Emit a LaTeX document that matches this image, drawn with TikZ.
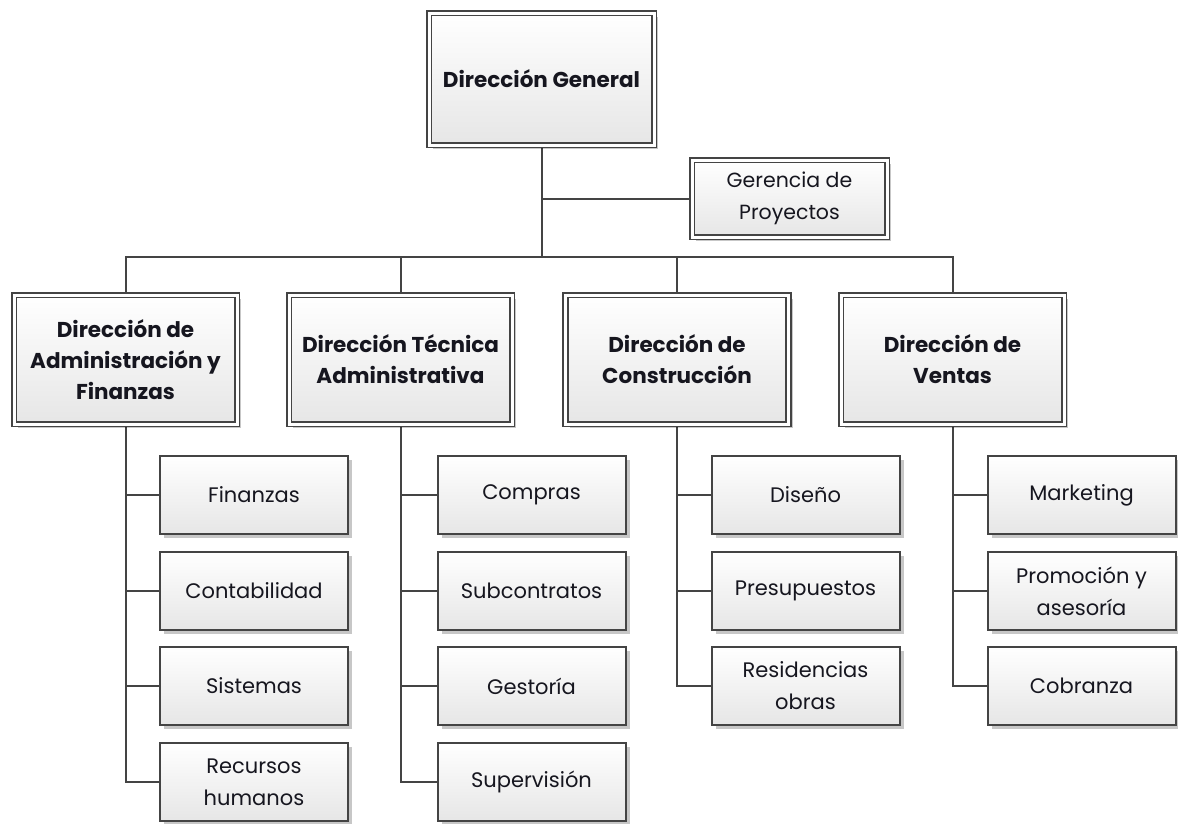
\documentclass[tikz,border=0pt]{standalone}
\usepackage{fontspec}
\setmainfont{Poppins}
\usetikzlibrary{shadows,backgrounds}
\definecolor{edge}{HTML}{444444}
\definecolor{ink}{HTML}{16161F}
\definecolor{shade}{HTML}{E6E6E6}
\tikzset{
  base/.style={rectangle, top color=white, bottom color=shade, text=ink,
    align=center, inner sep=1pt,
    drop shadow={shadow xshift=4pt, shadow yshift=-4pt, opacity=0.22, fill=black}},
  headbox/.style={base, draw=edge, double=white, double distance=3pt,
    line width=1.6pt, font=\bfseries\fontsize{21.5}{31}\selectfont,
    minimum width=223pt, minimum height=129pt},
  unitbox/.style={base, draw=edge, line width=2pt,
    font=\fontsize{21}{32}\selectfont,
    minimum width=188pt, minimum height=78pt},
  link/.style={draw=edge, line width=2pt},
}
\begin{document}
\begin{tikzpicture}[x=1pt, y=-1pt]
\useasboundingbox (0,0) rectangle (1178,823);

% top level
\node[headbox, minimum width=225pt, minimum height=132pt] (dg) at (541.5,79) {Dirección General};
\node[headbox, font=\fontsize{20.5}{32}\selectfont, minimum width=195pt, minimum height=77pt] (ger) at (789.5,198.5) {Gerencia de\\Proyectos};

% directions
\node[headbox] (adm) at (125.5,359.5) {Dirección de\\Administración y\\Finanzas};
\node[headbox] (tec) at (400.5,359.5) {Dirección Técnica\\Administrativa};
\node[headbox] (con) at (677,359.5) {Dirección de\\Construcción};
\node[headbox] (ven) at (952.5,359.5) {Dirección de\\Ventas};

% units under each direction
\node[unitbox] (a1) at (254,495) {Finanzas};
\node[unitbox] (a2) at (254,591) {Contabilidad};
\node[unitbox] (a3) at (254,686) {Sistemas};
\node[unitbox] (a4) at (254,782) {Recursos\\humanos};

\node[unitbox] (t1) at (531.5,495) {Compras};
\node[unitbox] (t2) at (531.5,591) {Subcontratos};
\node[unitbox] (t3) at (531.5,686) {Gestoría};
\node[unitbox] (t4) at (531.5,782) {Supervisión};

\node[unitbox] (k1) at (805.5,495) {Diseño};
\node[unitbox] (k2) at (805.5,591) {Presupuestos};
\node[unitbox] (k3) at (805.5,686) {Residencias\\obras};

\node[unitbox] (v1) at (1081.5,495) {Marketing};
\node[unitbox] (v2) at (1081.5,591) {Promoción y\\asesoría};
\node[unitbox] (v3) at (1081.5,686) {Cobranza};

\coordinate (hub) at (541.5,257);

\begin{scope}[on background layer]
  \draw[link] (dg.south) -- (hub);
  \draw[link] (dg.south |- ger.west) -- (ger.west);
  \draw[link] (adm.north) |- (hub) -| (ven.north);
  \draw[link] (tec.north) -- (tec.north |- hub);
  \draw[link] (con.north) -- (con.north |- hub);

  \draw[link] (adm.south) |- (a4.west);
  \foreach \c in {a1,a2,a3} \draw[link] (adm.south |- \c.west) -- (\c.west);
  \draw[link] (tec.south) |- (t4.west);
  \foreach \c in {t1,t2,t3} \draw[link] (tec.south |- \c.west) -- (\c.west);
  \draw[link] (con.south) |- (k3.west);
  \foreach \c in {k1,k2} \draw[link] (con.south |- \c.west) -- (\c.west);
  \draw[link] (ven.south) |- (v3.west);
  \foreach \c in {v1,v2} \draw[link] (ven.south |- \c.west) -- (\c.west);
\end{scope}
\end{tikzpicture}
\end{document}
